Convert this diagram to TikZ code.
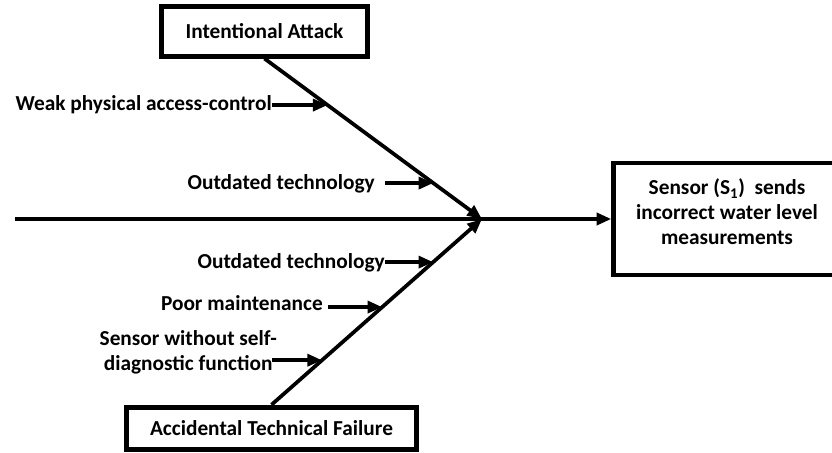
\documentclass[tikz,border=0pt]{standalone}
\usepackage{fontspec}
\setmainfont{Carlito}
\usetikzlibrary{arrows.meta, calc, positioning}

\begin{document}
\begin{tikzpicture}[
  x=0.75pt, y=-0.75pt,
  font=\fontsize{16}{18.75}\selectfont\bfseries,
  >={Triangle[length=11pt,width=9pt]},
  box/.style={draw, line width=3.6pt, inner sep=0pt},
  bone/.style={->, line width=2.8pt},
  rib/.style={->, line width=2.6pt},
  cause/.style={inner sep=0pt, anchor=east}]

  \useasboundingbox (0,0) rectangle (832,453);

  % categories and effect
  \node[box, minimum width=155pt, minimum height=37pt] (ia) at (264.5,31.5) {Intentional Attack};
  \node[box, minimum width=217pt, minimum height=32pt] (af) at (271.5,428.5) {Accidental Technical Failure};
  \node[box, minimum width=170pt, minimum height=84pt] (effect) at (727,219) {};
  \node[align=center] (effecttext) at ($(effect.center)+(0,-7)$)
    {Sensor (S\textsubscript{1})~ sends\\incorrect water level\\measurements};

  % spine and bones
  \coordinate (tail) at (15,219);
  \coordinate (head) at (482,219);
  \draw[bone] (tail) -- (effect.west);
  \draw[bone] (ia.south) -- (head);
  \draw[bone] (af.north) -- (head);

  % causes
  \coordinate (p1) at ($(ia.south)!0.29!(head)$);
  \coordinate (p2) at ($(ia.south)!0.776!(head)$);
  \coordinate (p3) at ($(af.north)!0.768!(head)$);
  \coordinate (p4) at ($(af.north)!0.526!(head)$);
  \coordinate (p5) at ($(af.north)!0.24!(head)$);

  \node[cause] (c1) at (272,104.5) {Weak physical access-control};
  \node[cause] (c2) at (375,184) {Outdated technology};
  \node[cause] (c3) at (385,263) {Outdated technology};
  \node[cause] (c4) at (323,303) {Poor maintenance};
  \node[cause, align=center] (c5) at (277,352) {Sensor without self-\\diagnostic function};

  \draw[rib] (c1.east |- p1) -- (p1);
  \draw[rib] ($(c2.east |- p2)+(10,0)$) -- (p2);
  \draw[rib] (c3.east |- p3) -- (p3);
  \draw[rib] ($(c4.east |- p4)+(5,0)$) -- (p4);
  \draw[rib] ($(c5.east |- p5)+(-5,0)$) -- (p5);
\end{tikzpicture}
\end{document}
